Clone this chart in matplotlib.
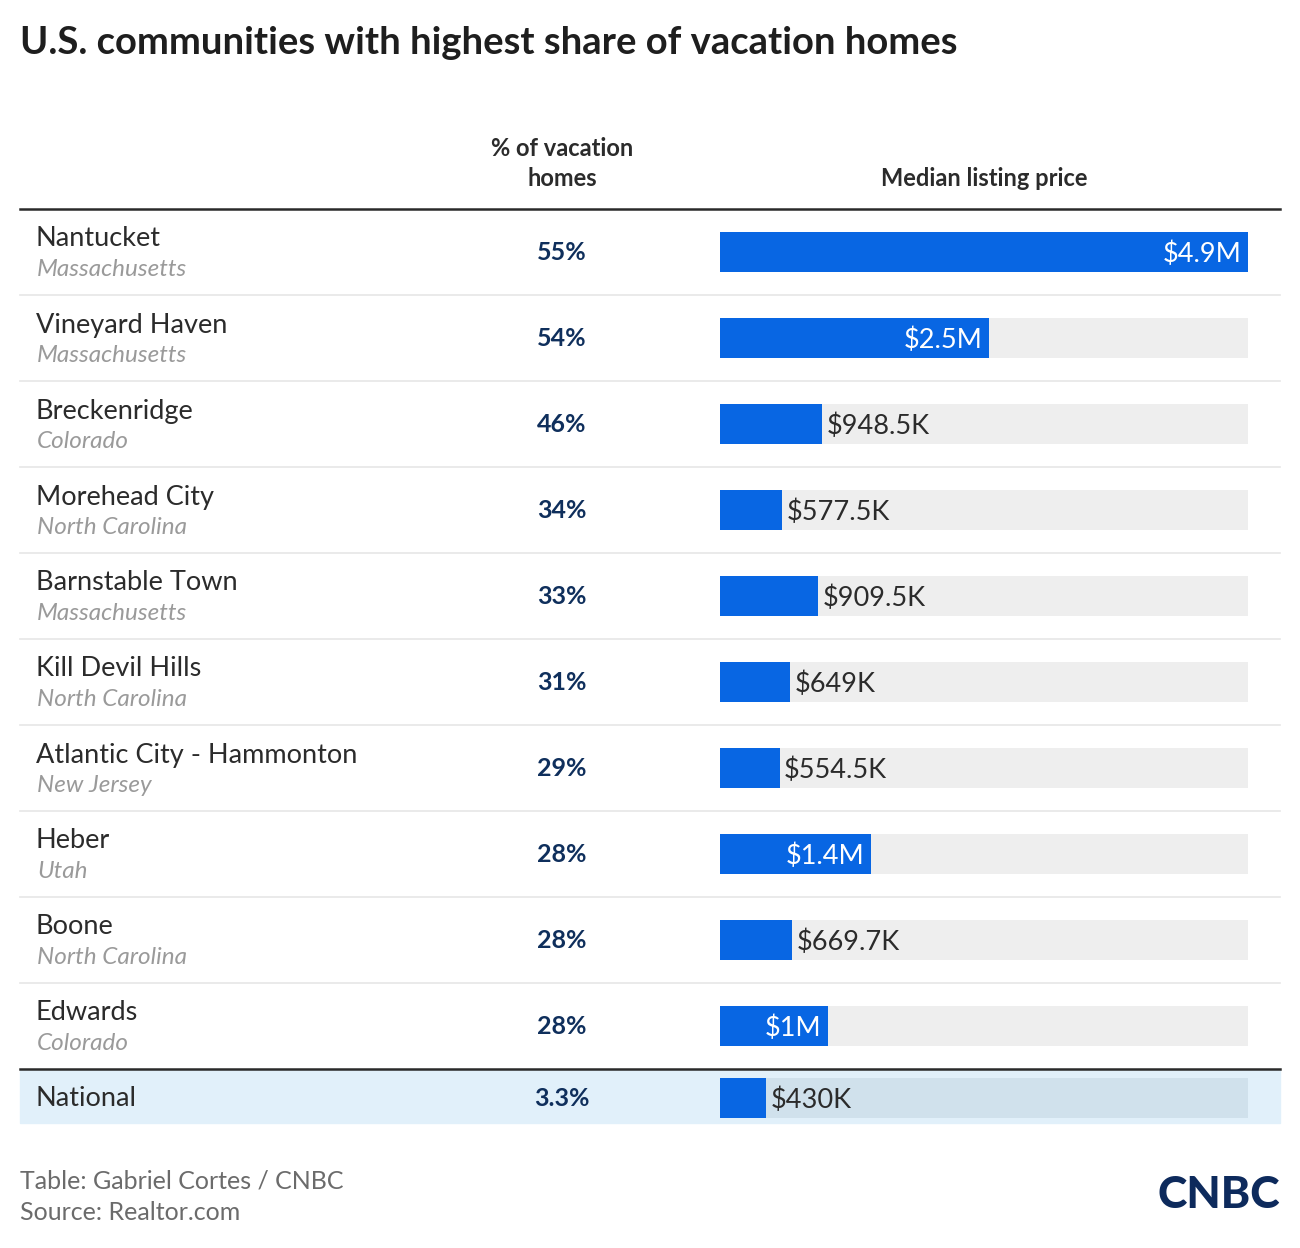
import matplotlib
matplotlib.use("Agg")
import matplotlib.pyplot as plt
from matplotlib.patches import Rectangle

plt.rcParams['font.family'] = ['Lato', 'DejaVu Sans']

# data
towns = ["Nantucket", "Vineyard Haven", "Breckenridge", "Morehead City", "Barnstable Town",
         "Kill Devil Hills", "Atlantic City - Hammonton", "Heber", "Boone", "Edwards"]
states = ["Massachusetts", "Massachusetts", "Colorado", "North Carolina", "Massachusetts",
          "North Carolina", "New Jersey", "Utah", "North Carolina", "Colorado"]
pct_labels = ["55%", "54%", "46%", "34%", "33%", "31%", "29%", "28%", "28%", "28%"]
price_m = [4.9, 2.5, 0.9485, 0.5775, 0.9095, 0.649, 0.5545, 1.4, 0.6697, 1.0]
price_labels = ["$4.9M", "$2.5M", "$948.5K", "$577.5K", "$909.5K", "$649K", "$554.5K",
                "$1.4M", "$669.7K", "$1M"]
nat_pct = "3.3%"
nat_price = 0.43
nat_label = "$430K"

W, H = 1300, 1248
BLUE = "#0866e3"
NAVY = "#0f2f5c"
DARK = "#2b2b2b"

fig = plt.figure(figsize=(13, 12.48), dpi=100)
ax = fig.add_axes([0, 0, 1, 1])
ax.set_xlim(0, W)
ax.set_ylim(H, 0)
ax.axis("off")

ax.text(20, 43, "U.S. communities with highest share of vacation homes", fontsize=27.5,
        fontweight="bold", color="#1e1e1e", va="center", ha="left")

ax.text(562, 148, "% of vacation", fontsize=17, fontweight="bold", color=DARK, ha="center", va="center")
ax.text(562, 178, "homes", fontsize=17, fontweight="bold", color=DARK, ha="center", va="center")
ax.text(984, 178, "Median listing price", fontsize=17, fontweight="bold", color=DARK, ha="center", va="center")

ax.plot([20, 1280], [209, 209], color="#2a2a2a", lw=1.8)

row_h = 86
top = 209
centers = [top + row_h * i + 43 for i in range(len(towns))]
for i, (t, s, p) in enumerate(zip(towns, states, pct_labels)):
    c = centers[i]
    ax.text(36, c - 13, t, fontsize=19.5, color=DARK, ha="left", va="center")
    ax.text(37, c + 18, s, fontsize=17.5, color="#9a9a9a", style="italic", ha="left", va="center")
    ax.text(562, c + 1, p, fontsize=18, fontweight="bold", color=NAVY, ha="center", va="center")
    if i < len(towns) - 1:
        ax.plot([20, 1280], [top + row_h * (i + 1)] * 2, color="#e6e6e6", lw=1.2)

nat_top = top + row_h * len(towns)
nat_c = nat_top + 29
ax.add_patch(Rectangle((20, nat_top), 1260, 54, color="#e1f0fa", zorder=0))
ax.plot([20, 1280], [nat_top, nat_top], color="#2a2a2a", lw=1.8)
ax.text(36, nat_c, "National", fontsize=19.5, color=DARK, ha="left", va="center")
ax.text(562, nat_c + 1, nat_pct, fontsize=18, fontweight="bold", color=NAVY, ha="center", va="center")

# bars
bx = fig.add_axes([720 / W, 1 - (nat_top + 54) / H, 528 / W, (nat_top + 54 - top) / H])
bx.set_xlim(0, max(price_m))
bx.set_ylim(nat_top + 54, top)
bx.axis("off")
bx.patch.set_alpha(0)
vmax = max(price_m)
bx.barh(centers, [vmax] * len(centers), height=40, color="#eeeeee")
bx.barh(centers, price_m, height=40, color=BLUE)
bx.barh([nat_c], [vmax], height=40, color="#d0e1ec")
bx.barh([nat_c], [nat_price], height=40, color=BLUE)

pad = 0.04
for c, v, lab in zip(centers, price_m, price_labels):
    if v >= 1.0:
        bx.text(v - 0.06, c + 2, lab, fontsize=19.5, color="white", ha="right", va="center")
    else:
        bx.text(v + pad, c + 2, lab, fontsize=19.5, color=DARK, ha="left", va="center")
bx.text(nat_price + pad, nat_c + 2, nat_label, fontsize=19.5, color=DARK, ha="left", va="center")

# footer
ax.text(20, 1181, "Table: Gabriel Cortes / CNBC", fontsize=18, color="#6b6b6b", ha="left", va="center")
ax.text(20, 1213, "Source: Realtor.com", fontsize=18, color="#6b6b6b", ha="left", va="center")
ax.text(1280, 1195, "CNBC", fontsize=32, fontweight="black", color="#0d2a5c", ha="right", va="center")

fig.savefig("out.png", dpi=100)
